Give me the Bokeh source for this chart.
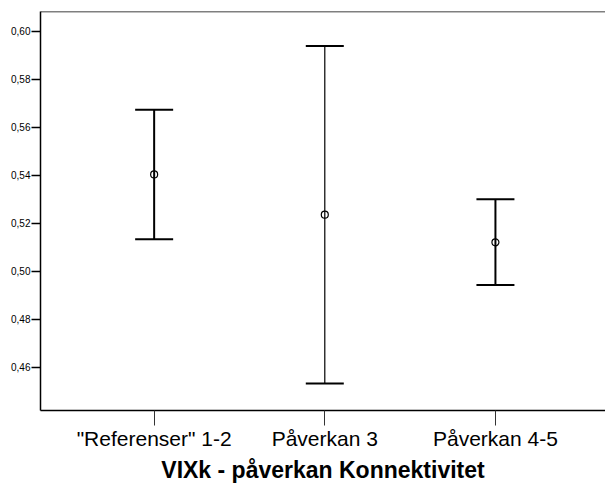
from bokeh.plotting import figure
from bokeh.models import ColumnDataSource, Range1d, FixedTicker, Whisker, TeeHead, Span
from bokeh.embed import file_html
from bokeh.resources import INLINE

categories = ['"Referenser" 1-2', "Påverkan 3", "Påverkan 4-5"]
means = [0.5404, 0.5236, 0.5121]
lower = [0.5134, 0.4533, 0.4943]
upper = [0.5673, 0.5939, 0.5300]
y_ticks = [0.46, 0.48, 0.50, 0.52, 0.54, 0.56, 0.58, 0.60]
y_tick_labels = ["0,46", "0,48", "0,50", "0,52", "0,54", "0,56", "0,58", "0,60"]
x_title = "VIXk - påverkan Konnektivitet"

xs = list(range(1, len(categories) + 1))
stem_widths = [2, 1.2, 2]

src = ColumnDataSource(dict(x=xs, mean=means, lower=lower, upper=upper, lw=stem_widths))

FONT = "Liberation Sans"
y_lo, y_hi = 0.4420, 0.6083

p = figure(width=605, height=485, output_backend="svg", toolbar_location=None,
           x_range=Range1d(0.334, 3.645), y_range=Range1d(y_lo, y_hi),
           min_border_left=40, min_border_right=0, min_border_top=11, min_border_bottom=74)
p.outline_line_color = None
p.grid.visible = False
p.background_fill_color = "white"
p.border_fill_color = "white"

# stems
p.segment(x0="x", y0="lower", x1="x", y1="upper", source=src, line_color="black", line_width="lw")
# caps
w = Whisker(source=src, base="x", lower="lower", upper="upper", dimension="height",
            line_alpha=0,
            upper_head=TeeHead(size=38, line_width=2, line_color="black"),
            lower_head=TeeHead(size=38, line_width=2, line_color="black"))
p.add_layout(w)
# means
p.scatter(x="x", y="mean", source=src, marker="circle", size=7, fill_color=None,
          line_color="black", line_width=1.2)

# top frame line
p.add_layout(Span(location=y_hi, dimension="width", line_color="black", line_width=1.5))

# y axis
ya = p.yaxis[0]
ya.ticker = FixedTicker(ticks=y_ticks)
ya.major_label_overrides = {t: l for t, l in zip(y_ticks, y_tick_labels)}
ya.major_label_text_font = FONT
ya.major_label_text_font_size = "10px"
ya.major_label_text_color = "black"
ya.major_label_standoff = 1
ya.major_tick_in = 0
ya.major_tick_out = 9
ya.major_tick_line_width = 1.5
ya.major_tick_line_color = "black"
ya.minor_tick_line_color = None
ya.axis_line_width = 1.5
ya.axis_line_color = "black"

# x axis
xa = p.xaxis[0]
xa.ticker = FixedTicker(ticks=xs)
xa.major_label_overrides = {x: c for x, c in zip(xs, categories)}
xa.major_label_text_font = FONT
xa.major_label_text_font_size = "21px"
xa.major_label_text_color = "black"
xa.major_label_standoff = 1
xa.major_tick_in = 0
xa.major_tick_out = 15
xa.major_tick_line_width = 1
xa.major_tick_line_color = "#333333"
xa.minor_tick_line_color = None
xa.axis_line_width = 1.5
xa.axis_line_color = "black"
xa.axis_label = x_title
xa.axis_label_text_font = FONT
xa.axis_label_text_font_size = "23px"
xa.axis_label_text_font_style = "bold"
xa.axis_label_text_color = "black"
xa.axis_label_standoff = 4

open("out.html", "w").write(file_html(p, INLINE))
